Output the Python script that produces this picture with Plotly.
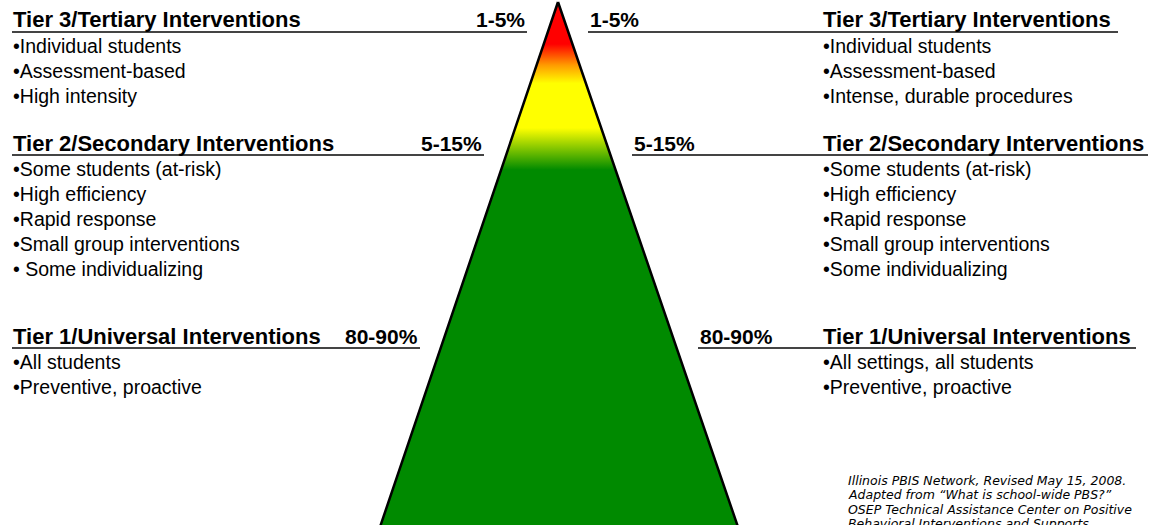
import plotly.graph_objects as go

# ---- data ----
tier_titles = ["Tier 3/Tertiary Interventions", "Tier 2/Secondary Interventions", "Tier 1/Universal Interventions"]
tier_pcts = ["1-5%", "5-15%", "80-90%"]
left_bullets = [
    ["•Individual students", "•Assessment-based", "•High intensity"],
    ["•Some students (at-risk)", "•High efficiency", "•Rapid response", "•Small group interventions", "• Some individualizing"],
    ["•All students", "•Preventive, proactive"],
]
right_bullets = [
    ["•Individual students", "•Assessment-based", "•Intense, durable procedures"],
    ["•Some students (at-risk)", "•High efficiency", "•Rapid response", "•Small group interventions", "•Some individualizing"],
    ["•All settings, all students", "•Preventive, proactive"],
]
footnote = [
    "Illinois PBIS Network, Revised May 15, 2008.",
    "Adapted from \u201cWhat is school-wide PBS?\u201d",
    "OSEP Technical Assistance Center on Positive",
    "Behavioral Interventions and Supports",
]

# ---- layout geometry (pixels) ----
W, H = 1152, 525
header_y = [19, 143, 336]
line_y = [32, 155, 348]
left_line_end = [527, 484, 420]
right_line_start = [588, 632, 698]
right_line_end = [1118, 1148, 1136]
left_pct_right = [527, 484, 420]
right_pct_left = [588, 632, 698]
right_text_x = 821
left_text_x = 11
bullet_step = 25

apex = (558, 2)
base_l = (380, 527)
base_r = (738, 527)

FONT = "Liberation Sans, Arial, sans-serif"
HEAD_SIZE = 22
PCT_SIZE = 21
BUL_SIZE = 19.5

fig = go.Figure()

# triangle with vertical gradient
fig.add_trace(go.Scatter(
    x=[apex[0], base_r[0], base_l[0], apex[0]],
    y=[apex[1], base_r[1], base_l[1], apex[1]],
    mode="lines", fill="toself",
    line=dict(color="black", width=2.5),
    fillgradient=dict(
        type="vertical",
        start=2, stop=527,
        colorscale=[[0.0, "#ff0000"], [0.08, "#ff0000"], [0.12, "#ff9a00"],
                    [0.155, "#ffff00"], [0.24, "#ffff00"], [0.32, "#008a00"], [1.0, "#008a00"]],
    ),
    hoverinfo="skip", showlegend=False,
))

shapes = []
ann = []
for i in range(3):
    shapes.append(dict(type="line", x0=12, x1=left_line_end[i], y0=line_y[i], y1=line_y[i],
                       line=dict(color="#444444", width=2), layer="above"))
    shapes.append(dict(type="line", x0=right_line_start[i], x1=right_line_end[i], y0=line_y[i], y1=line_y[i],
                       line=dict(color="#444444", width=2), layer="above"))
    ann.append(dict(x=left_text_x, y=header_y[i], text="<b>" + tier_titles[i] + "</b>", xanchor="left",
                    yanchor="middle", font=dict(size=HEAD_SIZE, family=FONT, color="black")))
    ann.append(dict(x=right_text_x, y=header_y[i], text="<b>" + tier_titles[i] + "</b>", xanchor="left",
                    yanchor="middle", font=dict(size=HEAD_SIZE, family=FONT, color="black")))
    ann.append(dict(x=left_pct_right[i], y=header_y[i], text="<b>" + tier_pcts[i] + "</b>", xanchor="right",
                    yanchor="middle", font=dict(size=PCT_SIZE, family=FONT, color="black")))
    ann.append(dict(x=right_pct_left[i], y=header_y[i], text="<b>" + tier_pcts[i] + "</b>", xanchor="left",
                    yanchor="middle", font=dict(size=PCT_SIZE, family=FONT, color="black")))
    for j, b in enumerate(left_bullets[i]):
        ann.append(dict(x=left_text_x, y=line_y[i] + 14 + j * bullet_step, text=b, xanchor="left",
                        yanchor="middle", font=dict(size=BUL_SIZE, family=FONT, color="black")))
    for j, b in enumerate(right_bullets[i]):
        ann.append(dict(x=right_text_x, y=line_y[i] + 14 + j * bullet_step, text=b, xanchor="left",
                        yanchor="middle", font=dict(size=BUL_SIZE, family=FONT, color="black")))

for k, t in enumerate(footnote):
    ann.append(dict(x=846, y=480 + k * 14.5, text="<i>" + t + "</i>", xanchor="left", yanchor="middle",
                    font=dict(size=12.5, family="DejaVu Sans, sans-serif", color="black")))

for a in ann:
    a.update(xref="x", yref="y", showarrow=False)

fig.update_layout(
    width=W, height=H,
    margin=dict(l=0, r=0, t=0, b=0),
    paper_bgcolor="white", plot_bgcolor="white",
    xaxis=dict(range=[0, W], visible=False, fixedrange=True),
    yaxis=dict(range=[H, 0], visible=False, fixedrange=True),
    shapes=shapes, annotations=ann,
)

fig.write_html("out.html", config={"displayModeBar": False, "staticPlot": True},
               post_script="document.body.style.margin='0';document.body.style.overflow='hidden';")
